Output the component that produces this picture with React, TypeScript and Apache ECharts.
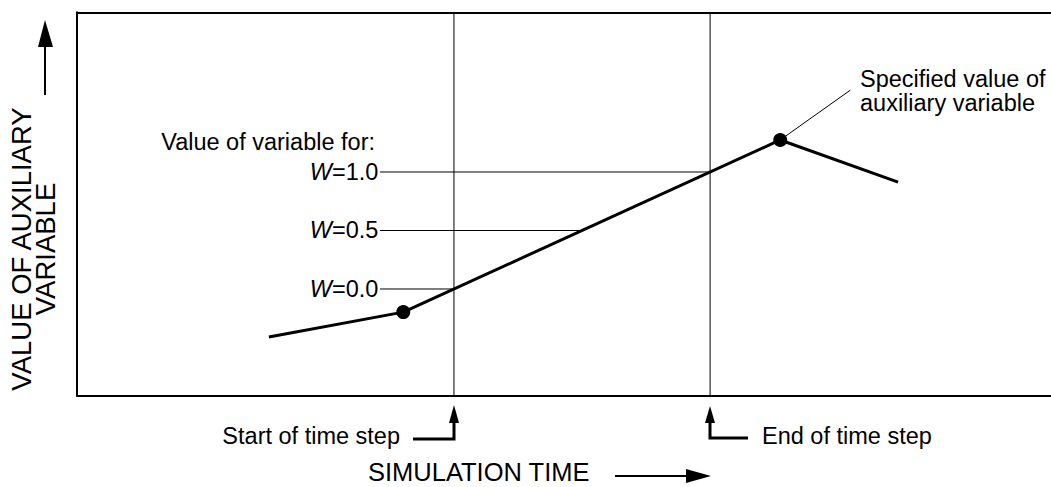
import React, { useEffect, useRef } from "react";
import * as echarts from "echarts";

// Curve of the auxiliary variable (simulation time, value)
const timeX = [19.7, 33.5, 72.2, 84.3];
const valueY = [15.3, 21.8, 66.7, 55.7];
// indices of the specified values (dots)
const dotIdx = [1, 2];
// time step bounds
const stepStart = 38.7;
const stepEnd = 65.0;
// weights W
const wWeights = [0, 0.5, 1];
const wLabels = ["0.0", "0.5", "1.0"];
const wLabelX = 31.1;
// leader line end for annotation
const leaderEnd = [79.4, 79.7];

const FONT = "'Liberation Sans', Arial, Helvetica, sans-serif";
const FS = 23.5;

function interp(x: number): number {
  for (let i = 0; i < timeX.length - 1; i++) {
    if (x >= timeX[i] && x <= timeX[i + 1]) {
      const t = (x - timeX[i]) / (timeX[i + 1] - timeX[i]);
      return valueY[i] + t * (valueY[i + 1] - valueY[i]);
    }
  }
  return valueY[valueY.length - 1];
}

export default function App() {
  const ref = useRef<HTMLDivElement>(null);
  useEffect(() => {
    if (!ref.current) return;
    const chart = echarts.init(ref.current, null, { renderer: "svg" });
    const y0 = interp(stepStart);
    const y1 = interp(stepEnd);
    const wSeries = wWeights.map((w, i) => {
      const y = y0 + w * (y1 - y0);
      const xe = stepStart + w * (stepEnd - stepStart);
      return {
        type: "line",
        data: [
          [wLabelX, y],
          [xe, y],
        ],
        symbol: "circle",
        symbolSize: 1,
        showSymbol: true,
        itemStyle: { color: "rgba(0,0,0,0)" },
        lineStyle: { color: "#000", width: 1 },
        z: 2,
        label: {
          show: true,
          position: "left",
          distance: 1,
          color: "#000",
          fontSize: FS,
          fontFamily: FONT,
          formatter: (p: any) => (p.dataIndex === 0 ? "{i|W}{n|=" + wLabels[i] + "}" : ""),
          rich: {
            i: { fontStyle: "italic", fontSize: FS, fontFamily: FONT, color: "#000" },
            n: { fontSize: FS, fontFamily: FONT, color: "#000" },
          },
        },
      };
    });
    const txt = (x: number, y: number, text: string, align: string, size = FS) => ({
      type: "text",
      x,
      y,
      style: {
        text,
        fill: "#000",
        font: `${size}px ${FONT}`,
        textAlign: align,
        textVerticalAlign: "middle",
      },
    });
    const hiddenAxis = {
      type: "value",
      min: 0,
      max: 100,
      axisLine: { show: true, lineStyle: { color: "#000", width: 2 } },
      axisTick: { show: false },
      axisLabel: { show: false },
      splitLine: { show: false },
    };
    chart.setOption({
      animation: false,
      grid: { left: 77, right: 0, top: 12.3, bottom: 91.3 },
      xAxis: [
        { ...hiddenAxis, position: "bottom" },
        { ...hiddenAxis, position: "top" },
      ],
      yAxis: { ...hiddenAxis },
      series: [
        {
          type: "line",
          data: [
            [stepStart, 0],
            [stepStart, 100],
          ],
          symbol: "none",
          lineStyle: { color: "#000", width: 1 },
          z: 1,
        },
        {
          type: "line",
          data: [
            [stepEnd, 0],
            [stepEnd, 100],
          ],
          symbol: "none",
          lineStyle: { color: "#000", width: 1 },
          z: 1,
        },
        ...wSeries,
        {
          type: "line",
          data: [[timeX[dotIdx[1]], valueY[dotIdx[1]]], leaderEnd],
          symbol: "none",
          lineStyle: { color: "#000", width: 1 },
          z: 2,
        },
        {
          type: "line",
          data: timeX.map((x, i) => [x, valueY[i]]),
          symbol: "none",
          lineStyle: { color: "#000", width: 3 },
          z: 3,
        },
        {
          type: "scatter",
          data: dotIdx.map((i) => [timeX[i], valueY[i]]),
          symbol: "circle",
          symbolSize: 14,
          itemStyle: { color: "#000", opacity: 1 },
          z: 4,
        },
      ],
      graphic: [
        txt(375, 142, "Value of variable for:", "right"),
        {
          type: "text",
          left: 860,
          top: 67,
          style: {
            text: "Specified value of\nauxiliary variable",
            fill: "#000",
            font: `${FS}px ${FONT}`,
            lineHeight: 24,
            textAlign: "left",
          },
        },
        txt(400, 436, "Start of time step", "right"),
        txt(762, 436, "End of time step", "left"),
        txt(368, 472, "SIMULATION TIME", "left", 25.5),
        {
          type: "text",
          x: 33,
          y: 249,
          rotation: Math.PI / 2,
          style: {
            text: "VALUE OF AUXILIARY\nVARIABLE",
            fill: "#000",
            font: `27.5px ${FONT}`,
            lineHeight: 24,
            textAlign: "center",
            textVerticalAlign: "middle",
          },
        },
        // y-axis arrow
        { type: "line", shape: { x1: 45, y1: 95, x2: 45, y2: 44 }, style: { stroke: "#000", lineWidth: 2 } },
        { type: "polygon", shape: { points: [[45, 20], [38, 47], [53, 47]] }, style: { fill: "#000" } },
        // x-axis arrow
        { type: "line", shape: { x1: 615, y1: 476, x2: 690, y2: 476 }, style: { stroke: "#000", lineWidth: 2 } },
        { type: "polygon", shape: { points: [[711, 476], [686, 469], [686, 483]] }, style: { fill: "#000" } },
        // start of time step connector
        {
          type: "polyline",
          shape: { points: [[413, 439], [454, 439], [454, 420]] },
          style: { stroke: "#000", lineWidth: 3, fill: null },
        },
        { type: "polygon", shape: { points: [[454, 405], [449, 423], [459, 423]] }, style: { fill: "#000" } },
        // end of time step connector
        {
          type: "polyline",
          shape: { points: [[748, 438], [710, 438], [710, 420]] },
          style: { stroke: "#000", lineWidth: 3, fill: null },
        },
        { type: "polygon", shape: { points: [[710, 406], [705, 423], [715, 423]] }, style: { fill: "#000" } },
      ],
    });
    return () => chart.dispose();
  }, []);
  return (
    <div
      ref={ref}
      style={{ position: "fixed", left: 0, top: 0, width: 1051, height: 487, background: "#fff" }}
    />
  );
}
